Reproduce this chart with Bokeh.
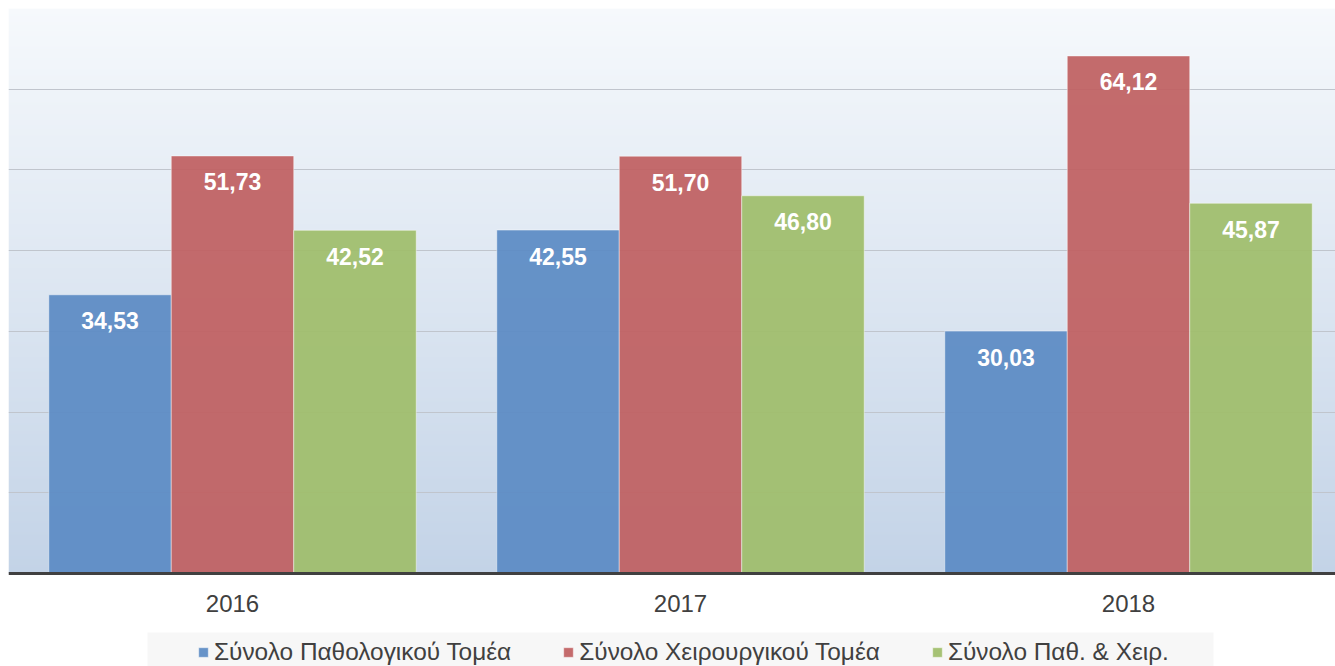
import numpy as np
from bokeh.plotting import figure
from bokeh.models import (ColumnDataSource, FixedTicker, Range1d, Legend, LegendItem,
                          Span, BoxAnnotation)
from bokeh.core.properties import value
from bokeh.embed import file_html
from bokeh.resources import INLINE

years = ["2016", "2017", "2018"]
series_names = ["Σύνολο Παθολογικού Τομέα", "Σύνολο Χειρουργικού Τομέα", "Σύνολο Παθ. & Χειρ."]
pathologic = [34.53, 42.55, 30.03]
surgical = [51.73, 51.70, 64.12]
combined = [42.52, 46.80, 45.87]
colors = ["#5b8bc4", "#bf6061", "#9fbd6a"]

FONT = "Liberation Sans"
Y_MAX = 70
FRAME_W = 1327
PLOT_H = 565          # pixel height of the 0..70 value area
BELOW_H = 93          # pixel space below the value axis (labels + legend)
PX_PER_UNIT = PLOT_H / Y_MAX
Y_MIN = -BELOW_H / PX_PER_UNIT
GROUP_PX = 448
BAR_W = 0.2734
X_END = FRAME_W / GROUP_PX

p = figure(frame_width=FRAME_W, frame_height=PLOT_H + BELOW_H, output_backend="svg",
           toolbar_location=None, min_border=0, min_border_left=8, min_border_right=0,
           min_border_top=8, min_border_bottom=0,
           x_range=Range1d(0, X_END), y_range=Range1d(Y_MIN, Y_MAX))
p.outline_line_color = None
p.background_fill_color = "white"
p.border_fill_color = "white"
p.xaxis.visible = False
p.yaxis.visible = False

# gradient background of the value area (decoration)
n = PLOT_H
top_c = np.array([0xf6, 0xf9, 0xfc], dtype=float)
bot_c = np.array([0xc3, 0xd3, 0xe7], dtype=float)
t = np.linspace(0, 1, n)[:, None]
rgb = np.round(bot_c + (top_c - bot_c) * t).astype(np.uint32)
img = (255 << 24) | (rgb[:, 2] << 16) | (rgb[:, 1] << 8) | rgb[:, 0]
img = img.reshape(n, 1).astype(np.uint32)
bg = p.image_rgba(image=[img], x=0, y=0, dw=X_END, dh=Y_MAX)
bg.level = "image"

p.ygrid.ticker = FixedTicker(ticks=list(range(10, Y_MAX + 1, 10)))
p.ygrid.grid_line_color = "#c0c5cd"
p.ygrid.grid_line_width = 1
p.xgrid.visible = False

xs = [i + 0.5 for i in range(len(years))]
offsets = [-BAR_W, 0.0, BAR_W]
items = []
for vals, col, name, off in zip([pathologic, surgical, combined], colors, series_names, offsets):
    src = ColumnDataSource(dict(x=[x + off for x in xs], top=vals,
                                lbl=[("%.2f" % v).replace(".", ",") for v in vals]))
    r = p.vbar(x="x", top="top", bottom=0, width=BAR_W, source=src, fill_color=col,
               fill_alpha=0.93, line_color="white", line_alpha=0.45, line_width=1)
    p.text(x="x", y="top", text="lbl", source=src, y_offset=26, text_align="center",
           text_baseline="middle", text_color="white", text_font=value(FONT),
           text_font_style="bold", text_font_size="23px")
    items.append(LegendItem(label=name, renderers=[r]))

# category axis: baseline and year labels
p.add_layout(Span(location=0, dimension="width", line_color="#404040", line_width=3))
ysrc = ColumnDataSource(dict(x=xs, y=[0] * len(xs), t=years))
p.text(x="x", y="y", text="t", source=ysrc, y_offset=30, text_align="center",
       text_baseline="middle", text_color="#404040", text_font=value(FONT),
       text_font_size="24px")

# legend background box (decoration), spanning from the legend top to the bottom edge
legend_top_px = 59   # pixels below the baseline
p.add_layout(BoxAnnotation(left=(147 - 8) / GROUP_PX, right=(1213 - 8) / GROUP_PX,
                           top=-legend_top_px / PX_PER_UNIT, bottom=Y_MIN,
                           fill_color="#f7f7f7", fill_alpha=1, line_color=None,
                           level="annotation"))

legend = Legend(items=items, orientation="horizontal", location=(189, 0),
                background_fill_alpha=0, border_line_color=None,
                label_text_font=FONT, label_text_font_size="24.4px",
                label_text_color="#404040", glyph_width=12, glyph_height=12,
                label_standoff=5, spacing=51, padding=6, margin=0,
                label_height=24)
p.add_layout(legend, "center")

open("out.html", "w").write(file_html(p, INLINE))
